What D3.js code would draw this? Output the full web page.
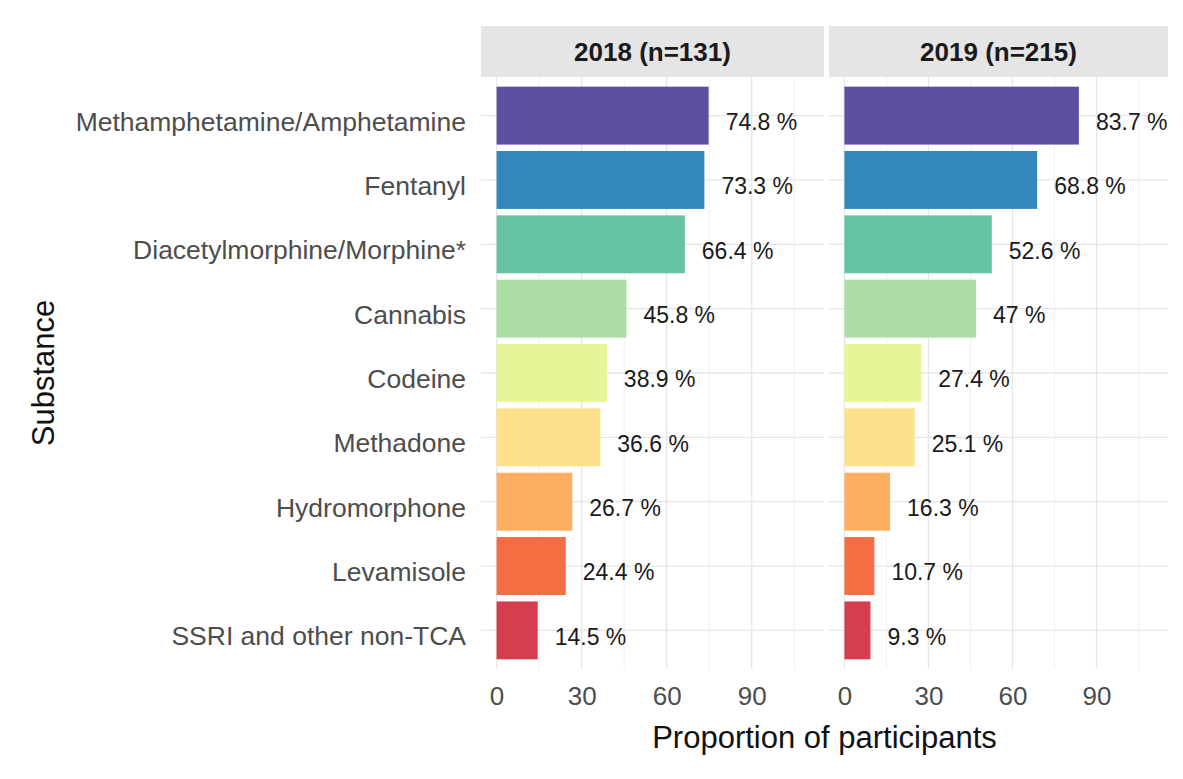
<!DOCTYPE html>
<html><head><meta charset="utf-8">
<script src="https://cdn.jsdelivr.net/npm/d3@7/dist/d3.min.js"></script>
<style>body{margin:0;background:#fff;} text{font-family:"Liberation Sans",Arial,sans-serif;}</style>
</head><body><svg id="chart" width="1183" height="779"></svg>
<script>
const categories = ["Methamphetamine/Amphetamine","Fentanyl","Diacetylmorphine/Morphine*","Cannabis","Codeine","Methadone","Hydromorphone","Levamisole","SSRI and other non-TCA"];
const colors = ["#5E4FA2","#3288BD","#66C2A5","#ABDDA4","#E6F598","#FEE08B","#FDAE61","#F46D43","#D53E4F"];
const panels = ["2018 (n=131)","2019 (n=215)"];
const values2018 = [74.8,73.3,66.4,45.8,38.9,36.6,26.7,24.4,14.5];
const values2019 = [83.7,68.8,52.6,47,27.4,25.1,16.3,10.7,9.3];
const labels2018 = ["74.8 %","73.3 %","66.4 %","45.8 %","38.9 %","36.6 %","26.7 %","24.4 %","14.5 %"];
const labels2019 = ["83.7 %","68.8 %","52.6 %","47 %","27.4 %","25.1 %","16.3 %","10.7 %","9.3 %"];
const majorTicks = [0,30,60,90];
const minorTicks = [15,45,75,105];

const svg = d3.select("#chart");
const stripTop = 26, panelTop = 77, panelBottom = 669;
const panelX = [[481,824],[829,1168]];
const y = d3.scalePoint().domain(categories).range([panelTop, panelBottom]).padding(0.6);
const barH = y.step()*0.9;
const series = [values2018, values2019];
const labs = [labels2018, labels2019];

panels.forEach((p,i)=>{
  const [x0,x1] = panelX[i];
  const x = d3.scaleLinear().domain([-5.5,115.5]).range([x0,x1]);
  const g = svg.append("g");
  // strip
  g.append("rect").attr("x",x0).attr("y",stripTop).attr("width",x1-x0).attr("height",panelTop-stripTop).attr("fill","#e5e5e5");
  g.append("text").attr("x",(x0+x1)/2).attr("y",(stripTop+panelTop)/2).attr("dy","0.36em")
    .attr("text-anchor","middle").attr("font-size",26).attr("font-weight","bold").attr("fill","#1a1a1a").text(p);
  // grid
  g.selectAll(".minor").data(minorTicks).enter().append("line")
    .attr("x1",d=>x(d)).attr("x2",d=>x(d)).attr("y1",panelTop).attr("y2",panelBottom)
    .attr("stroke","#f0f0f0").attr("stroke-width",1);
  g.selectAll(".major").data(majorTicks).enter().append("line")
    .attr("x1",d=>x(d)).attr("x2",d=>x(d)).attr("y1",panelTop).attr("y2",panelBottom)
    .attr("stroke","#e6e6e6").attr("stroke-width",1.3);
  g.selectAll(".hg").data(categories).enter().append("line")
    .attr("x1",x0).attr("x2",x1).attr("y1",d=>y(d)).attr("y2",d=>y(d))
    .attr("stroke","#e6e6e6").attr("stroke-width",1.3);
  // bars
  g.selectAll(".bar").data(categories).enter().append("rect")
    .attr("x",x(0)).attr("y",d=>y(d)-barH/2)
    .attr("width",(d,j)=>x(series[i][j])-x(0)).attr("height",barH)
    .attr("fill",(d,j)=>colors[j]);
  // value labels
  g.selectAll(".vl").data(categories).enter().append("text")
    .attr("x",(d,j)=>x(series[i][j])+17).attr("y",d=>y(d)+6).attr("dy","0.36em")
    .attr("font-size",23).attr("fill","#1a1a1a").text((d,j)=>labs[i][j]);
  // x axis tick labels
  const ax = g.append("g").attr("transform",`translate(0,${panelBottom+13})`)
    .call(d3.axisBottom(x).tickValues(majorTicks).tickSize(0).tickPadding(5));
  ax.select(".domain").remove();
  ax.selectAll("text").attr("font-size",26).attr("fill","#4d4d4d").attr("font-family","Liberation Sans, Arial, sans-serif");
});

// y axis labels
const ay = svg.append("g").attr("transform",`translate(${panelX[0][0]-10},6)`)
  .call(d3.axisLeft(y).tickSize(0).tickPadding(5));
ay.select(".domain").remove();
ay.selectAll("text").attr("font-size",26.5).attr("fill","#4d4d4d").attr("font-family","Liberation Sans, Arial, sans-serif");

svg.append("text").attr("x",(panelX[0][0]+panelX[1][1])/2).attr("y",748)
  .attr("text-anchor","middle").attr("font-size",31).attr("fill","#111").text("Proportion of participants");
svg.append("text").attr("transform",`translate(54,${(panelTop+panelBottom)/2}) rotate(-90)`)
  .attr("text-anchor","middle").attr("font-size",31).attr("fill","#111").text("Substance");
</script></body></html>
